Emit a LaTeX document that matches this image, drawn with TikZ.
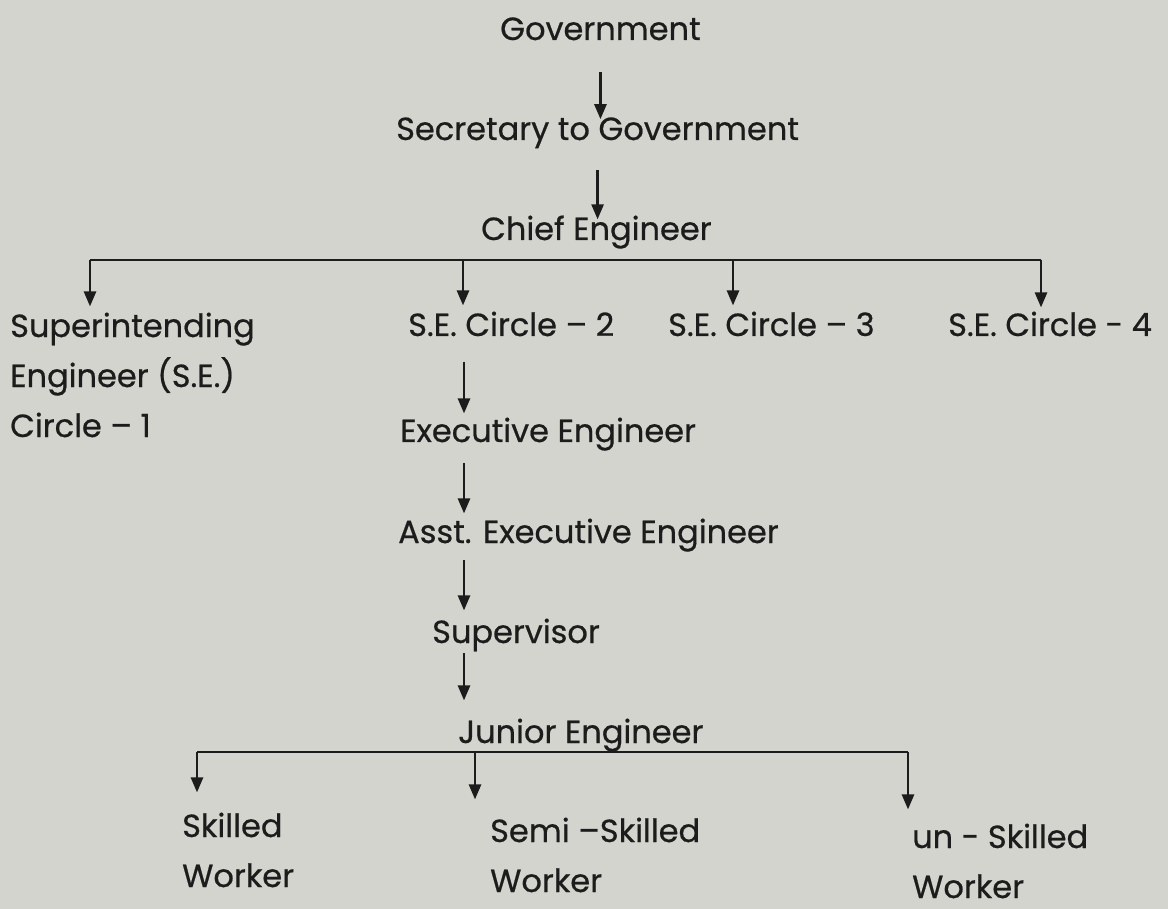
\documentclass[tikz,border=0pt]{standalone}
\usepackage{fontspec}
\setmainfont{Poppins}[FakeBold=0.6]
\usepackage{tikz}
\usetikzlibrary{arrows.meta, positioning, calc}

\definecolor{paper}{RGB}{212,212,207}
\definecolor{ink}{RGB}{28,28,28}

\begin{document}
\begin{tikzpicture}[
    x=1pt, y=-1pt,
    post/.style={anchor=base west, inner sep=0pt, text=ink, align=left,
                 font=\fontsize{32}{50}\selectfont},
    arr/.style={-{Triangle[length=15pt, width=12pt]}, line width=2.6pt, draw=ink},
    bar/.style={line width=2.6pt, draw=ink},
]
    % Page
    \fill[paper] (0,0) rectangle (1168,909);
    \useasboundingbox (0,0) rectangle (1168,909);

    % Top of the chain
    \node[post] (gov) at (500,40) {Government};
    \node[post] (sec) at (396,140) {Secretary to Government};
    \node[post] (chief) at (481,240) {Chief Engineer};

    % Circles (multi-line nodes sit on their last line)
    \node[post] (se1) at (10,437) {Superintending\\Engineer (S.E.)\\Circle -- 1};
    \node[post] (se2) at (408,336) {S.E. Circle -- 2};
    \node[post] (se3) at (668,336) {S.E. Circle -- 3};
    \node[post] (se4) at (948,336) {S.E. Circle - 4};

    % Down the line
    \node[post] (exe) at (400,442) {Executive Engineer};
    \node[post] (aee) at (398,543) {Asst. Executive Engineer};
    \node[post] (sup) at (432,643) {Supervisor};
    \node[post] (je) at (458,743) {Junior Engineer};

    % Workers
    \node[post] (sw) at (182,887) {Skilled\\Worker};
    \node[post] (ssw) at (490,892) {Semi --Skilled\\Worker};
    \node[post] (usw) at (912,898) {un - Skilled\\Worker};

    % Bar points
    \coordinate (tl) at (90,260);
    \coordinate (tr) at (1041,260);
    \coordinate (t2) at (463,260);
    \coordinate (t3) at (733,260);
    \coordinate (spine) at (464,0);
    \coordinate (bl) at (197,752);
    \coordinate (br) at (908,752);
    \coordinate (b2) at (475,752);

    % Arrows
    \draw[arr] ($(gov.base)+(0,32)$) -- ($(sec.north -| gov.base)+(0,2)$);
    \draw[arr] ($(sec.base)+(0,30)$) -- ($(chief.north -| sec.base)+(0,4)$);
    \draw[bar] (tl) -- (tr);
    \draw[arr] (tl) -- ($(se1.north -| tl)+(0,-6)$);
    \draw[arr] (t2) -- ($(se2.north -| t2)+(0,-6)$);
    \draw[arr] (t3) -- ($(se3.north -| t3)+(0,-6)$);
    \draw[arr] (tr) -- ($(se4.north -| tr)+(0,-4)$);
    \draw[arr] ($(se2.base -| spine)+(0,26)$) -- ($(exe.north -| spine)+(0,-4)$);
    \draw[arr] ($(exe.base -| spine)+(0,21)$) -- ($(aee.north -| spine)+(0,-5)$);
    \draw[arr] ($(aee.base -| spine)+(0,17)$) -- ($(sup.north -| spine)+(0,-8)$);
    \draw[arr] ($(sup.base -| spine)+(0,10)$) -- ($(je.north -| spine)+(0,-18)$);
    \draw[bar] (bl) -- (br);
    \draw[arr] (bl) -- ($(sw.north -| bl)+(0,-20)$);
    \draw[arr] (b2) -- ($(ssw.north -| b2)+(0,-18)$);
    \draw[arr] (br) -- ($(usw.north -| br)+(0,-14)$);
\end{tikzpicture}
\end{document}
